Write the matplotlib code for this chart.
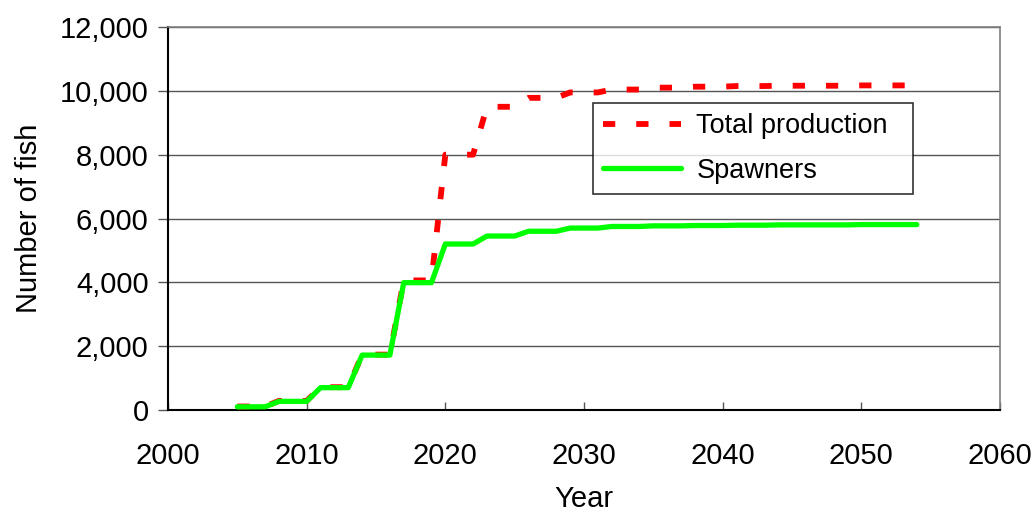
import matplotlib
matplotlib.use("Agg")
import matplotlib.pyplot as plt
from matplotlib.ticker import FuncFormatter

plt.rcParams['font.family'] = ['Liberation Sans', 'DejaVu Sans']

years = list(range(2005, 2055))

spawners_steps = [100, 270, 700, 1720, 3990, 5200, 5450, 5600, 5700, 5750,
                  5770, 5780, 5790, 5800, 5800, 5810, 5810]
total_steps = [110, 285, 715, 1735, 4060, 8000, 9500, 9780, 9950, 10040,
               10100, 10130, 10150, 10160, 10160, 10170, 10170]

spawners = [spawners_steps[i // 3] for i in range(len(years))]
total_production = [total_steps[i // 3] for i in range(len(years))]

xticks = [2000, 2010, 2020, 2030, 2040, 2050, 2060]
yticks = [0, 2000, 4000, 6000, 8000, 10000, 12000]

FS = 21
LFS = 19.5

fig = plt.figure(figsize=(10.34, 5.14), dpi=100)
ax = fig.add_axes([168/1034, 1-410/514, (1000-168)/1034, (410-27)/514])

ax.plot(years, total_production, color='#ff0000', lw=4.2, dashes=(2.1, 3.6),
        dash_capstyle='butt', label='Total production', zorder=3)
ax.plot(years, spawners, color='#00ff00', lw=3.8, solid_capstyle='round',
        solid_joinstyle='round', label='Spawners', zorder=4)

ax.set_xlim(2000, 2060)
ax.set_ylim(0, 12000)
ax.set_xticks(xticks)
ax.set_yticks(yticks)
ax.yaxis.set_major_formatter(FuncFormatter(lambda v, p: f"{int(v):,}"))
ax.grid(axis='y', color='#555555', lw=1.0, zorder=1)
ax.set_axisbelow(True)

for s in ['top', 'right']:
    ax.spines[s].set_color('#808080')
    ax.spines[s].set_linewidth(1.2)
for s in ['left', 'bottom']:
    ax.spines[s].set_color('black')
    ax.spines[s].set_linewidth(1.5)

ax.tick_params(axis='x', direction='in', length=6, width=1, color='#555555',
               labelsize=FS, pad=23)
ax.tick_params(axis='y', direction='out', length=7, width=1, color='#555555',
               labelsize=FS, pad=7)

ax.set_xlabel('Year', fontsize=FS, labelpad=11)
ax.set_ylabel('Number of fish', fontsize=FS, labelpad=12)

leg = ax.legend(loc='upper left', bbox_to_anchor=(0.511, 0.572, 0.384, 0.2296),
                mode='expand', borderaxespad=0,
                fontsize=LFS, frameon=True, fancybox=False, handlelength=2.88,
                handletextpad=0.55, labelspacing=0.68, borderpad=0.38)
leg.get_frame().set_edgecolor('black')
leg.get_frame().set_linewidth(1.2)

fig.savefig('out.png', dpi=100)
